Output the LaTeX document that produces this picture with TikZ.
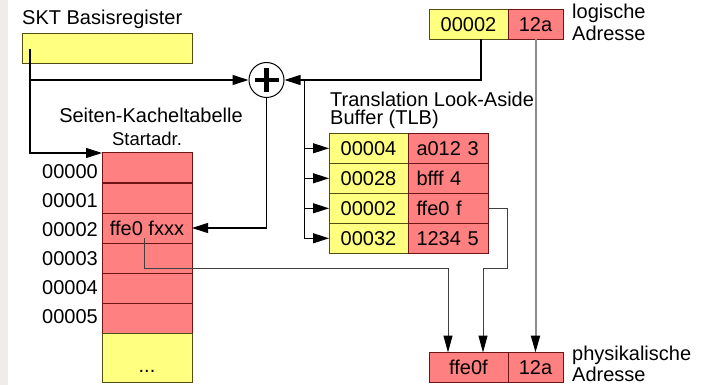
\documentclass[tikz,border=0pt]{standalone}
\usepackage{fontspec}
\setmainfont{Liberation Sans}
\usetikzlibrary{arrows.meta,calc}
\definecolor{cellyellow}{RGB}{255,255,128}
\definecolor{cellred}{RGB}{255,128,128}
\definecolor{edgered}{RGB}{110,20,20}
\definecolor{edgeyellow}{RGB}{80,80,20}
\definecolor{stripgray}{RGB}{238,237,235}
\begin{document}
\begin{tikzpicture}[x=1pt, y=-1pt, font=\fontsize{20}{22.5}\selectfont,
    ycell/.style={draw=edgeyellow, fill=cellyellow, line width=1pt, inner sep=0pt, outer sep=0pt, anchor=north west},
    rcell/.style={draw=edgered, fill=cellred, line width=1pt, inner sep=0pt, outer sep=0pt, anchor=north west},
    txt/.style={inner sep=0pt},
    conn/.style={line width=1.1pt, -{Triangle[length=16pt,width=10pt]}},
    feed/.style={line width=1pt, draw=black!75, -{Triangle[length=17pt,width=9pt,color=black]}}]
  \useasboundingbox (0,0) rectangle (707,385);
  \fill[stripgray] (0,0) rectangle (8,385);

  % base register and page table
  \node[txt, anchor=base west] (sktlbl) at (22,25) {SKT Basisregister};
  \node[ycell, minimum width=170pt, minimum height=30pt] (sktreg) at (22,34) {};
  \node[txt, anchor=base] (skttitle) at (151,123) {Seiten-Kacheltabelle};
  \node[txt, anchor=base, font=\fontsize{18.5}{20}\selectfont] (startadr) at (147,146) {Startadr.};
  \foreach \i in {0,...,5} {
    \node[rcell, minimum width=90pt, minimum height=30pt] (row\i) at (102, 153+30*\i) {};
    \node[txt, anchor=base east] (adr\i) at (98, 178.3+29*\i) {0000\i};
  }
  \node[ycell, minimum width=90pt, minimum height=49pt] (rowend) at (102,333) {};
  \node[txt, anchor=base] (dots) at (147,372.5) {...};
  \node (fxxxtxt) at (row2.center) {ffe0 fxxx};

  % adder
  \node[circle, draw, line width=1pt, fill=white, minimum size=35pt, inner sep=0pt] (plus) at (266.5,80) {};
  \draw[line width=4.5pt] ([xshift=-12pt]plus.center) -- ([xshift=12pt]plus.center)
                          ([yshift=-12pt]plus.center) -- ([yshift=12pt]plus.center);

  % TLB
  \node[txt, anchor=north west, align=left, font=\fontsize{20}{18.5}\selectfont] (tlbtitle) at (330,91.5)
    {Translation Look-Aside\\Buffer (TLB)};
  \foreach \i/\pg/\fr in {0/00004/a012 3, 1/00028/bfff 4, 2/00002/ffe0 f, 3/00032/1234 5} {
    \node[ycell, minimum width=79pt, minimum height=30pt] (tlbp\i) at (329, 133.3+30*\i) {\pg};
    \node[rcell, minimum width=80pt, minimum height=30pt, text width=63pt, align=left] (tlbf\i) at (tlbp\i.north east) {\fr};
  }

  % logical and physical address
  \node[ycell, minimum width=79pt, minimum height=30pt] (lpage) at (429,9.3) {00002};
  \node[rcell, minimum width=55pt, minimum height=30pt] (loff) at (lpage.north east) {12a};
  \node[txt, anchor=base west] (loglblA) at (572,18.3) {logische};
  \node[txt, anchor=base west] (loglblB) at (572,40.7) {Adresse};
  \node[rcell, minimum width=79pt, minimum height=30pt] (pframe) at (429,352.5) {ffe0f};
  \node[rcell, minimum width=55pt, minimum height=30pt] (poff) at (pframe.north east) {12a};
  \node[txt, anchor=base west] (physlblA) at (572,360) {physikalische};
  \node[txt, anchor=base west] (physlblB) at (572,381.5) {Adresse};

  % connections
  \coordinate (skttap) at ([xshift=8pt]sktreg.west);
  \draw[conn] (skttap) |- (row0.north west);
  \draw[conn] (skttap |- plus.west) -- (plus.west);
  \draw[conn] (plus.south) |- (row2.east);
  \draw[conn] ([xshift=12.5pt]lpage.south) |- (plus.east);
  \coordinate (tlbtap) at ([xshift=20pt]plus.east);
  \foreach \i in {0,...,3}
    \draw[conn] (tlbtap) |- (tlbp\i.west);
  \coordinate (fxxx) at ([xshift=-3pt,yshift=-10pt]row2.center);
  \draw[feed] (fxxx) -- ++(0,30) -| ([xshift=-20.5pt]pframe.north);
  \draw[feed] (tlbf2.east) -- ++(19,0) -- ++(0,60) -| ([xshift=14.5pt]pframe.north);
  \draw[feed, draw=black!45, line width=2pt] (loff.south) -- (poff.north);
\end{tikzpicture}
\end{document}
